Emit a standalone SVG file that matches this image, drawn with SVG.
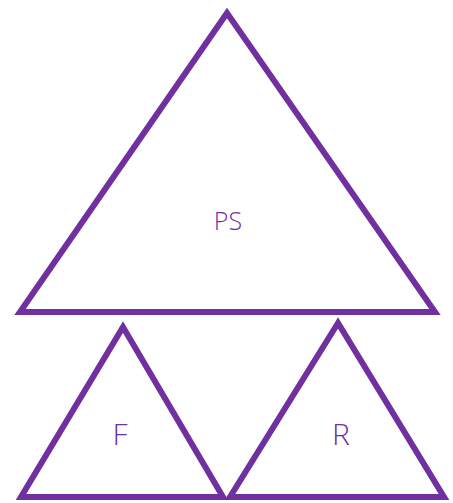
<svg xmlns="http://www.w3.org/2000/svg" width="453" height="503" viewBox="0 0 453 503">
<style>
.tri{fill:#fff;stroke:#7030A0;stroke-width:6;stroke-linejoin:miter}
.lbl{fill:#7030A0;font-family:"Open Sans",sans-serif;font-weight:300;text-anchor:middle}
</style>
<rect width="453" height="503" fill="#fff"/>
<g id="PS"><polygon class="tri" points="227,13 20,312 435,312"/><text class="lbl" x="228" y="230" font-size="25">PS</text></g>
<g id="F"><polygon class="tri" points="123,327 21,497 223,497"/><text class="lbl" x="120" y="445" font-size="30">F</text></g>
<g id="R"><polygon class="tri" points="338,323 230,497 444,497"/><text class="lbl" x="341" y="445" font-size="30">R</text></g>
<g id="connectors"/>
</svg>
